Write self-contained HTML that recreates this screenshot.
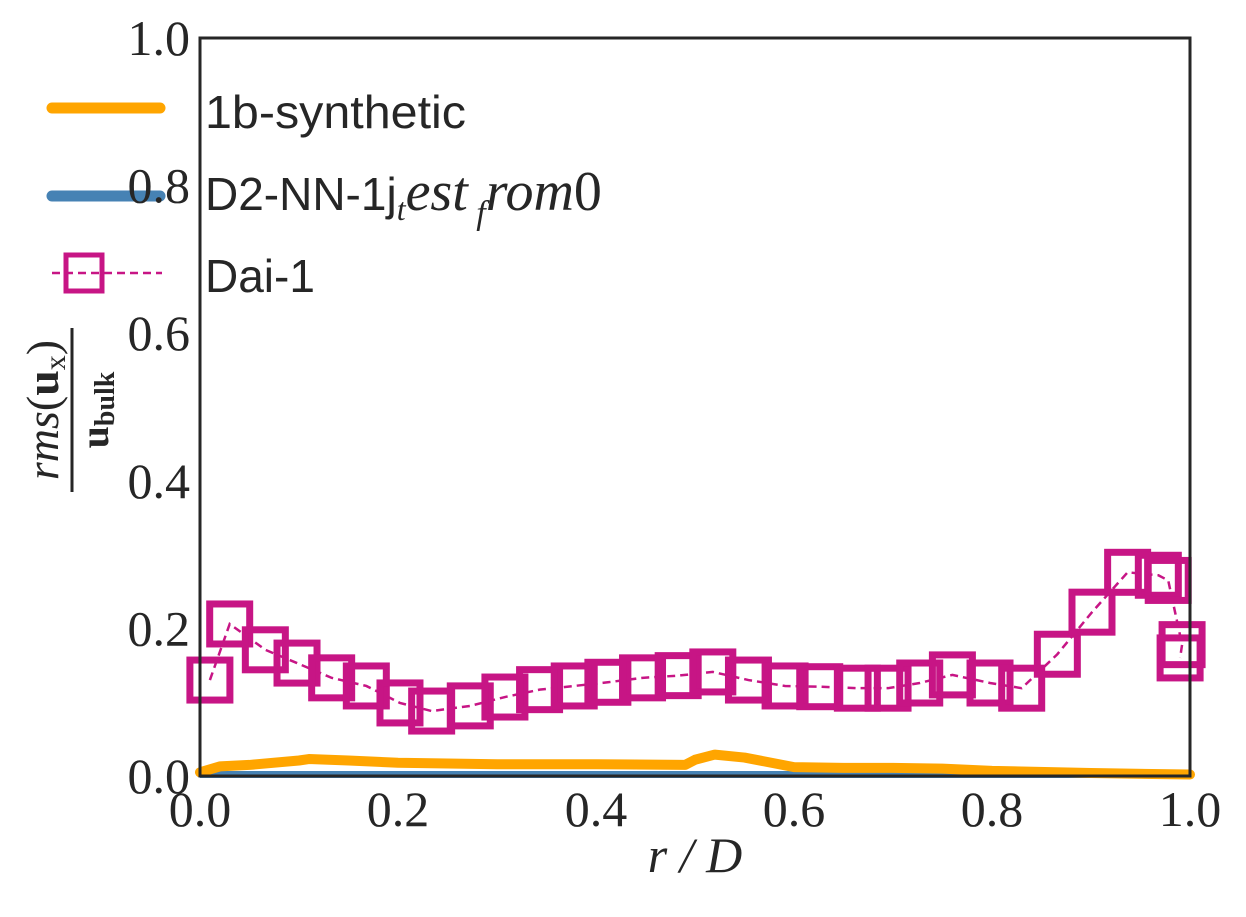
<!DOCTYPE html>
<html><head><meta charset="utf-8"><style>
html,body{margin:0;padding:0;background:#fff;}
svg{display:block;}
.tick{font-family:"Liberation Serif",serif;font-size:50px;fill:#262626;}
.leg{font-family:"Liberation Sans",sans-serif;font-size:46px;fill:#262626;}
</style></head><body>
<svg id="chart" width="1246" height="917" viewBox="0 0 1246 917">
<g id="plot"></g>
<rect x="200" y="38" width="990" height="738" fill="none" stroke="#262626" stroke-width="3"/>
<g>
 <line x1="52" y1="108" x2="160" y2="108" stroke="#FFA500" stroke-width="11" stroke-linecap="round"/>
 <text class="leg" x="205" y="128" textLength="261" lengthAdjust="spacingAndGlyphs">1b-synthetic</text>
 <line x1="52" y1="196" x2="160" y2="196" stroke="#4682B4" stroke-width="11" stroke-linecap="round"/>
 <text class="leg" x="205" y="210">D2-NN-1j<tspan font-family="Liberation Serif" font-style="italic" font-size="32" dy="10">t</tspan><tspan font-family="Liberation Serif" font-style="italic" font-size="56" dy="-10">est</tspan><tspan font-family="Liberation Serif" font-style="italic" font-size="34" dy="14"> f</tspan><tspan font-family="Liberation Serif" font-style="italic" font-size="56" dy="-14">rom</tspan><tspan font-family="Liberation Serif" font-size="56">0</tspan></text>
 <line x1="52" y1="273" x2="162" y2="273" stroke="#C71585" stroke-width="2.5" stroke-dasharray="8,5"/>
 <rect x="66" y="255" width="36" height="36" fill="none" stroke="#C71585" stroke-width="5"/>
 <text class="leg" x="205" y="292">Dai-1</text>
</g>
<text x="695" y="872" font-family="Liberation Serif" font-style="italic" font-size="50" fill="#262626" text-anchor="middle">r / D</text>
<g transform="translate(68,410) rotate(-90)">
 <text x="0" y="-10" font-family="Liberation Serif" font-size="46" fill="#262626" text-anchor="middle"><tspan font-style="italic">rms</tspan>(<tspan font-weight="bold">u</tspan><tspan font-size="30" dy="7">x</tspan><tspan dy="-7">)</tspan></text>
 <line x1="-82" y1="4" x2="82" y2="4" stroke="#262626" stroke-width="3"/>
 <text x="0" y="40" font-family="Liberation Serif" font-size="40" font-weight="bold" fill="#262626" text-anchor="middle">u<tspan font-size="28" dy="6">bulk</tspan></text>
</g>
</svg>
<script>
const xTicks=[0,0.2,0.4,0.6,0.8,1.0];
const yTicks=[0,0.2,0.4,0.6,0.8,1.0];
const tickLabels=["0.0","0.2","0.4","0.6","0.8","1.0"];
const daiX=[0.01,0.03,0.066,0.098,0.133,0.168,0.202,0.234,0.273,0.308,0.343,0.378,0.412,0.447,0.483,0.518,0.554,0.591,0.626,0.664,0.695,0.727,0.760,0.798,0.830,0.866,0.901,0.937,0.968,0.978,0.992,0.99];
const daiY=[0.130,0.206,0.171,0.153,0.133,0.122,0.099,0.088,0.095,0.107,0.117,0.122,0.127,0.133,0.136,0.141,0.130,0.122,0.121,0.119,0.119,0.126,0.137,0.126,0.119,0.165,0.222,0.276,0.272,0.265,0.178,0.160];
const synX=[0,0.02,0.05,0.1,0.11,0.15,0.2,0.3,0.4,0.49,0.5,0.52,0.55,0.6,0.65,0.7,0.75,0.8,0.9,1.0];
const synY=[0.005,0.013,0.015,0.021,0.023,0.021,0.018,0.016,0.016,0.015,0.022,0.029,0.025,0.012,0.011,0.011,0.010,0.007,0.004,0.002];
const nnX=[0,1.0];
const nnY=[0.002,0.002];
const sx=v=>200+v*990, sy=v=>776-v*738;
const NS="http://www.w3.org/2000/svg";
const g=document.getElementById('plot');
const svg=document.getElementById('chart');
function mk(t,a,p){const e=document.createElementNS(NS,t);for(const k in a)e.setAttribute(k,a[k]);(p||g).appendChild(e);return e;}
xTicks.forEach((v,i)=>{const t=mk('text',{class:'tick',x:sx(v),y:826,'text-anchor':'middle'},svg);t.textContent=tickLabels[i];

});
yTicks.forEach((v,i)=>{const t=mk('text',{class:'tick',x:190,y:sy(v)+17,'text-anchor':'end'},svg);t.textContent=tickLabels[i];

});
const pts=(X,Y)=>X.map((x,i)=>sx(x)+','+sy(Y[i])).join(' ');
const nn=mk('polyline',{points:pts(nnX,nnY),fill:'none',stroke:'#4682B4','stroke-width':7});


const syn=mk('polyline',{points:pts(synX,synY),fill:'none',stroke:'#FFA500','stroke-width':10,'stroke-linejoin':'round','stroke-linecap':'round'});


const dl=mk('polyline',{points:pts(daiX,daiY),fill:'none',stroke:'#C71585','stroke-width':2.5,'stroke-dasharray':'8,5'});


daiX.forEach((x,i)=>{const r=mk('rect',{x:sx(x)-20,y:sy(daiY[i])-20,width:40,height:40,fill:'none',stroke:'#C71585','stroke-width':7});

});
</script>
</body></html>
